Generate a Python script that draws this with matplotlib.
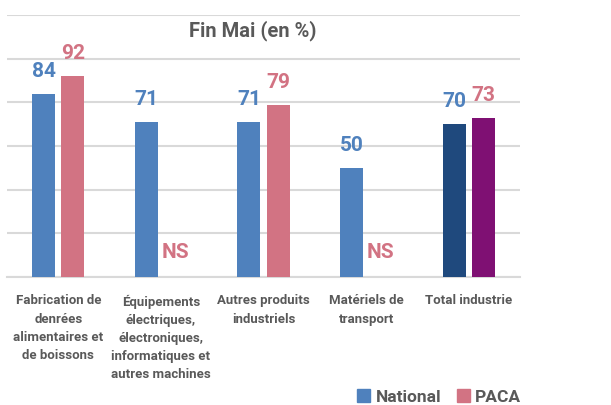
import matplotlib
matplotlib.use("Agg")
import matplotlib.pyplot as plt
import numpy as np

categories = ["Fabrication de\ndenrées\nalimentaires et\nde boissons",
              "Équipements\nélectriques,\nélectroniques,\ninformatiques et\nautres machines",
              "Autres produits\nindustriels",
              "Matériels de\ntransport",
              "Total industrie"]
national = [84, 71, 71, 50, 70]
paca = [92, None, 79, None, 73]
series_names = ["National", "PACA"]

plt.rcParams['font.family'] = ['Roboto', 'DejaVu Sans']

C_NAT = "#4F81BD"
C_PACA = "#D27383"
C_NAT_TOT = "#1F497D"
C_PACA_TOT = "#7F1073"
GRAY = "#595959"

fig = plt.figure(figsize=(6.11, 4.05), dpi=100)
ax = fig.add_axes([7/611, 1-277/405, (520-7)/611, (277-15)/405])

x = np.arange(len(categories))
w = 0.225
off = 0.142
nat_colors = [C_NAT]*4 + [C_NAT_TOT]
paca_colors = [C_PACA]*4 + [C_PACA_TOT]

for i, v in enumerate(national):
    ax.bar(x[i]-off, v, w, color=nat_colors[i], zorder=3)
    ax.annotate(str(v), (x[i]-off, v), xytext=(0, 12), textcoords='offset points',
                ha='center', va='baseline', fontsize=15, fontweight='bold', color=C_NAT)
for i, v in enumerate(paca):
    if v is None:
        ax.text(x[i]+off, 11, "NS", ha='center', va='center', fontsize=15,
                fontweight='bold', color=C_PACA)
    else:
        ax.bar(x[i]+off, v, w, color=paca_colors[i], zorder=3)
        ax.annotate(str(v), (x[i]+off, v), xytext=(0, 12), textcoords='offset points',
                    ha='center', va='baseline', fontsize=15, fontweight='bold', color=C_PACA)

ax.set_xlim(-0.5, len(categories)-0.5)
ax.set_ylim(0, 120)
ax.set_yticks(np.arange(0, 121, 20))
ax.yaxis.grid(True, color="#D9D9D9", linewidth=1.5, zorder=0)
ax.set_axisbelow(True)
for s in ['left', 'right', 'top']:
    ax.spines[s].set_visible(False)
ax.spines['bottom'].set_color("#D9D9D9")
ax.spines['bottom'].set_linewidth(1.5)
ax.tick_params(axis='y', left=False, labelleft=False)
ax.tick_params(axis='x', bottom=False, pad=9)
ax.set_xticks(x)
ax.set_xticklabels(categories, fontsize=9.5, fontweight='bold', color=GRAY,
                   linespacing=1.52, va='top')

fig.text(253/611, 1-31/405, "Fin Mai (en %)", ha='center', va='center',
         fontsize=14.5, fontweight='bold', color=GRAY)

# legend
from matplotlib.patches import Patch
handles = [Patch(color=C_NAT), Patch(color=C_PACA)]
leg = fig.legend(handles, series_names, loc='center right', bbox_to_anchor=(521/611, 1-397/405),
                 ncol=2, frameon=False, handlelength=0.75, handleheight=0.8,
                 handletextpad=0.3, columnspacing=0.9, borderpad=0, borderaxespad=0,
                 prop={'weight': 'bold', 'size': 12.5})
for t in leg.get_texts():
    t.set_color(GRAY)

fig.savefig("out.png", dpi=100)
